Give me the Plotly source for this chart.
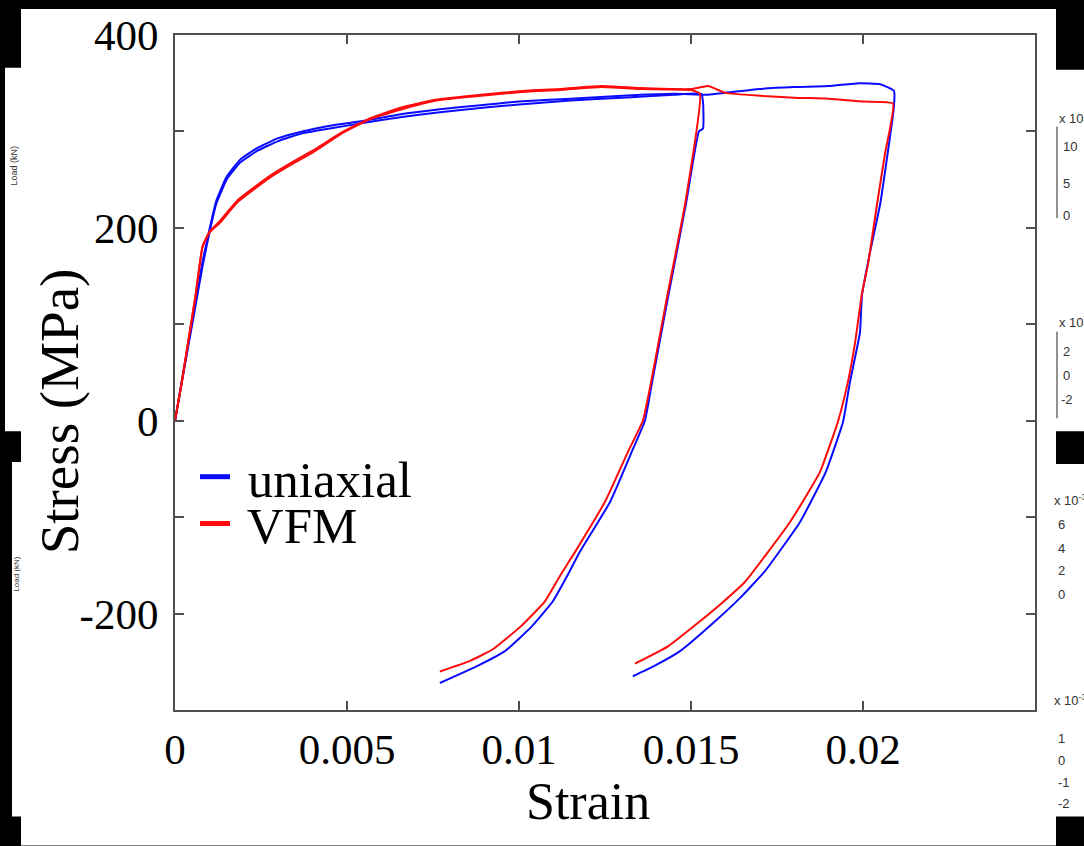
import plotly.graph_objects as go

# ---------------- data (strain, stress MPa) ----------------
uni1_strain = [0, 0.0002, 0.0004, 0.0006, 0.0008, 0.001, 0.0012, 0.0015, 0.0019, 0.0024, 0.003, 0.0037,
               0.0045, 0.0055, 0.0066, 0.0077, 0.0088, 0.01, 0.0115, 0.013, 0.0145, 0.0153, 0.01535, 0.01535,
               0.01523, 0.01486, 0.0143, 0.01387, 0.01366, 0.01328, 0.01265, 0.01177, 0.0114, 0.01099,
               0.01038, 0.00959, 0.00881, 0.0077]
uni1_stress = [0, 40, 80, 120, 160, 195, 225, 250, 268, 280, 290, 298,
               303, 309, 315, 320, 324, 328, 332, 335, 338, 339, 330, 303,
               300, 226, 122, 40, 0, -32, -84, -136, -161, -187,
               -213, -239, -254, -272]

uni2_strain = [0, 0.0002, 0.0004, 0.0006, 0.0008, 0.001, 0.0012, 0.0015, 0.0019, 0.0024, 0.003, 0.0037,
               0.0045, 0.0055, 0.0066, 0.0077, 0.0088, 0.01, 0.0115, 0.013, 0.0145, 0.0155, 0.016, 0.017,
               0.018, 0.019, 0.0199, 0.0205, 0.0209, 0.0209, 0.0205, 0.0202, 0.01997, 0.01991, 0.01962,
               0.01942, 0.01892, 0.01817, 0.01715, 0.01642, 0.0157, 0.01468, 0.01395, 0.01331]
uni2_stress = [0, 42, 83, 124, 165, 198, 228, 253, 271, 283, 293, 300,
               306, 311, 318, 323, 327, 331, 334, 337, 339, 338, 340, 344,
               346, 347, 350, 349, 342, 326, 225, 174, 130, 91, 40,
               -1, -53, -105, -156, -184, -208, -239, -254, -265]

vfm1_strain = [0, 0.0002, 0.0004, 0.0006, 0.0008, 0.001, 0.0013, 0.0018, 0.0023, 0.0028, 0.0034, 0.004,
               0.0049, 0.0057, 0.0066, 0.0076, 0.0086, 0.0095, 0.0105, 0.0112, 0.0124, 0.0135, 0.015, 0.01526,
               0.01483, 0.01427, 0.01384, 0.0136, 0.01317, 0.0125, 0.01163, 0.01119, 0.01076, 0.01006,
               0.00924, 0.00858, 0.0077]
vfm1_stress = [0, 40, 85, 130, 180, 195, 205, 226, 240, 253, 266, 278,
               299, 313, 323, 332, 336, 339, 342, 343, 346, 344, 343, 339,
               225, 122, 40, 0, -32, -84, -136, -161, -187, -213,
               -237, -249, -260]

vfm2_strain = [0, 0.0002, 0.0004, 0.0006, 0.0008, 0.001, 0.0013, 0.0018, 0.0023, 0.0028, 0.0034, 0.004,
               0.0049, 0.0057, 0.0066, 0.0076, 0.0086, 0.0095, 0.0105, 0.0112, 0.0124, 0.0135, 0.015, 0.0155,
               0.016, 0.017, 0.018, 0.019, 0.02, 0.02087, 0.02064, 0.02041, 0.02015, 0.01997, 0.01977,
               0.01956, 0.01927, 0.01875, 0.01788, 0.01657, 0.0159, 0.01526, 0.01433, 0.01337]
vfm2_stress = [0, 41, 86, 131, 181, 196, 207, 228, 242, 255, 268, 280,
               300, 314, 325, 333, 337, 340, 343, 344, 347, 345, 344, 347,
               340, 337, 335, 334, 331, 329, 277, 225, 163, 132, 81,
               40, -1, -53, -105, -167, -189, -208, -234, -252]

x_tickvals = [0, 0.005, 0.01, 0.015, 0.02, 0.025]
x_ticktext = ["0", "0.005", "0.01", "0.015", "0.02", ""]
y_tickvals = [-300, -200, -100, 0, 100, 200, 300, 400]
y_ticktext = ["", "-200", "", "0", "", "200", "", "400"]

series_names = ["uniaxial", "VFM"]
series_colors = ["#0a0aff", "#ff0a0a"]

# ---------------- figure ----------------
W, H = 1084, 846
ML, MR, MT, MB = 175, 49, 32, 136
PW, PH = W - ML - MR, H - MT - MB


def px(x):
    return (x - ML) / PW


def py(y):
    return (H - MB - y) / PH


fig = go.Figure()
for xs, ys, c in [(uni1_strain, uni1_stress, series_colors[0]),
                  (uni2_strain, uni2_stress, series_colors[0]),
                  (vfm1_strain, vfm1_stress, series_colors[1]),
                  (vfm2_strain, vfm2_stress, series_colors[1])]:
    fig.add_trace(go.Scatter(x=xs, y=ys, mode="lines", line=dict(color=c, width=2, shape="spline",
                                                                 smoothing=0.4),
                             showlegend=False, hoverinfo="skip"))

fig.add_trace(go.Scatter(x=[None], y=[None], mode="lines", name=" " + series_names[0],
                         line=dict(color=series_colors[0], width=5), legend="legend"))
fig.add_trace(go.Scatter(x=[None], y=[None], mode="lines", name=" " + series_names[1],
                         line=dict(color=series_colors[1], width=5), legend="legend2"))

# white panels of the composite screenshot
rects = [(21, 6, 1056, 846), (5, 65, 21, 430), (12, 461, 21, 817),
         (1056, 67, 1084, 430), (1056, 463, 1084, 817)]
shapes = []
for x0, y0, x1, y1 in rects:
    shapes.append(dict(type="rect", xref="paper", yref="paper", x0=px(x0), x1=px(x1),
                       y0=py(y1), y1=py(y0), fillcolor="white", line=dict(width=0), layer="below"))
for y0, y1 in [(124, 216), (330, 417)]:
    shapes.append(dict(type="line", xref="paper", yref="paper", x0=px(1057), x1=px(1057),
                       y0=py(y1), y1=py(y0), line=dict(color="#222", width=1)))

serif = "Liberation Serif, Times New Roman, serif"
annots = [
    dict(text="Strain", x=px(588), y=py(802), xref="paper", yref="paper", showarrow=False,
         font=dict(family=serif, size=52, color="black"), xanchor="center", yanchor="middle"),
    dict(text="Stress (MPa)", x=px(59), y=py(410), xref="paper", yref="paper", showarrow=False,
         textangle=-90, font=dict(family=serif, size=55, color="black"),
         xanchor="center", yanchor="middle"),
    dict(text="Load (kN)", x=px(14), y=py(163), xref="paper", yref="paper", showarrow=False,
         textangle=-90, font=dict(family="Liberation Sans, Arial", size=9, color="#333"),
         xanchor="center", yanchor="middle"),
    dict(text="Load (kN)", x=px(17), y=py(574), xref="paper", yref="paper", showarrow=False,
         textangle=-90, font=dict(family="Liberation Sans, Arial", size=8, color="#333"),
         xanchor="center", yanchor="middle"),
]
small = [("x 10<sup>7</sup>", 1057, 115), ("10", 1061, 144), ("5", 1061, 181), ("0", 1061, 213),
         ("x 10<sup>7</sup>", 1057, 320), ("2", 1061, 350), ("0", 1061, 374), ("-2", 1059, 398),
         ("x 10<sup>-3</sup>", 1052, 499), ("6", 1056, 524), ("4", 1056, 548), ("2", 1056, 570),
         ("0", 1056, 594),
         ("x 10<sup>-3</sup>", 1052, 700), ("1", 1056, 739), ("0", 1056, 761), ("-1", 1056, 783),
         ("-2", 1056, 804)]
for t, x, y in small:
    annots.append(dict(text=t, x=px(x), y=py(y), xref="paper", yref="paper", showarrow=False,
                       xanchor="left", yanchor="middle",
                       font=dict(family="Liberation Sans, Arial", size=13, color="#333")))

axis_common = dict(showgrid=False, zeroline=False, showline=True, mirror="ticks",
                   linecolor="#505050", linewidth=2, ticks="inside", ticklen=9,
                   tickwidth=2, tickcolor="#505050",
                   tickfont=dict(family=serif, size=43, color="black"))

fig.update_layout(
    width=W, height=H,
    margin=dict(l=ML, r=MR, t=MT, b=MB, pad=0),
    paper_bgcolor="black", plot_bgcolor="white",
    xaxis=dict(range=[0, 0.025], tickmode="array", tickvals=x_tickvals, ticktext=x_ticktext,
               **axis_common),
    yaxis=dict(range=[-300, 400], tickmode="array", tickvals=y_tickvals, ticktext=y_ticktext,
               ticklabelstandoff=6, **axis_common),
    shapes=shapes,
    annotations=annots,
    legend=dict(x=px(195), y=py(476), xanchor="left", yanchor="middle",
                bgcolor="rgba(0,0,0,0)", font=dict(family=serif, size=51, color="black")),
    legend2=dict(x=px(195), y=py(523), xanchor="left", yanchor="middle",
                 bgcolor="rgba(0,0,0,0)", font=dict(family=serif, size=51, color="black")),
)

fig.write_html("out.html")
